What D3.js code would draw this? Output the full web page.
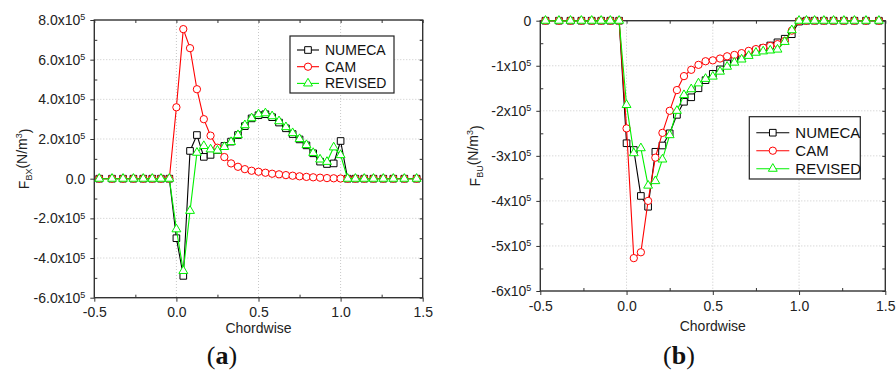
<!DOCTYPE html>
<html>
<head>
<meta charset="utf-8">
<title>Body force chordwise</title>
<script src="https://d3js.org/d3.v7.min.js"></script>
<style>
  body { margin: 0; background: #fff; }
  svg { display: block; font-family: "Liberation Sans", Arial, sans-serif; }
  .grid line { stroke: #c8c8c8; stroke-dasharray: 1,2; }
  .axis text { font-size: 14px; fill: #222; }
  .axis path { display: none; }
  .axis line { stroke: #333; }
</style>
</head>
<body>
<script>
// chordwise positions (shared by both panels)
var chordwise = [-0.47, -0.392, -0.325, -0.262, -0.202, -0.147, -0.094, -0.043,
  0, 0.042, 0.083, 0.125, 0.167, 0.208, 0.25, 0.292, 0.333, 0.375, 0.417, 0.458, 0.5,
  0.542, 0.583, 0.625, 0.667, 0.708, 0.75, 0.792, 0.833, 0.875, 0.917, 0.958, 1.0,
  1.043, 1.09, 1.144, 1.2, 1.26, 1.321, 1.388, 1.463];

// panel (a) F_BX, units of 1e5 N/m^3
var numecaA = [0, 0, 0, 0, 0, 0, 0, 0,
  -3.0, -4.9, 1.4, 2.2, 1.1, 1.2, 1.45, 1.65, 1.87, 2.2, 2.65, 3.04, 3.2,
  3.25, 3.1, 2.83, 2.54, 2.25, 1.98, 1.68, 1.28, 0.86, 0.74, 0.77, 1.9,
  0, 0, 0, 0, 0, 0, 0, 0];
var camA = [0, 0, 0, 0, 0, 0, 0, 0,
  3.6, 7.54, 6.58, 4.51, 3.0, 2.17, 1.56, 1.09, 0.77, 0.6, 0.48, 0.4, 0.35,
  0.3, 0.25, 0.22, 0.18, 0.15, 0.12, 0.09, 0.07, 0.05, 0.03, 0.02, 0.01,
  0, 0, 0, 0, 0, 0, 0, 0];
var revisedA = [0, 0, 0, 0, 0, 0, 0, 0,
  -2.55, -4.65, -1.62, 1.31, 1.65, 1.48, 1.42, 1.6, 1.85, 2.2, 2.7, 3.05, 3.25,
  3.3, 3.15, 2.9, 2.6, 2.3, 2.0, 1.7, 1.3, 0.97, 0.85, 1.58, 1.19,
  0, 0, 0, 0, 0, 0, 0, 0];

// panel (b) F_BU, units of 1e5 N/m^3
var numecaB = [0, 0, 0, 0, 0, 0, 0, 0,
  -2.72, -2.87, -3.89, -4.13, -2.91, -2.77, -2.5, -2.09, -1.8, -1.7, -1.5, -1.32, -1.18,
  -1.08, -0.95, -0.88, -0.8, -0.73, -0.66, -0.61, -0.55, -0.48, -0.4, -0.3, -0.02,
  0, 0, 0, 0, 0, 0, 0, 0];
var camB = [0, 0, 0, 0, 0, 0, 0, 0,
  -2.39, -5.27, -5.14, -4.0, -3.04, -2.49, -2.0, -1.54, -1.23, -1.09, -0.98, -0.9, -0.88,
  -0.84, -0.79, -0.76, -0.72, -0.67, -0.63, -0.6, -0.56, -0.52, -0.45, -0.22, -0.01,
  0, 0, 0, 0, 0, 0, 0, 0];
var revisedB = [0, 0, 0, 0, 0, 0, 0, 0,
  -1.87, -2.94, -2.83, -3.66, -3.56, -3.08, -2.54, -2.0, -1.65, -1.52, -1.39, -1.29, -1.24,
  -1.13, -1.02, -0.93, -0.86, -0.78, -0.71, -0.68, -0.66, -0.64, -0.47, -0.21, 0,
  0, 0, 0, 0, 0, 0, 0, 0];

var seriesNames = ["NUMECA", "CAM", "REVISED"];

var xTicks = [-0.5, 0, 0.5, 1.0, 1.5];
var xLabels = ["-0.5", "0.0", "0.5", "1.0", "1.5"];
var yTicksA = [-6, -4, -2, 0, 2, 4, 6, 8];
var yLabelsA = ["-6.0", "-4.0", "-2.0", "0.0", "2.0", "4.0", "6.0", "8.0"];
var yTicksB = [-6, -5, -4, -3, -2, -1, 0];
var yLabelsB = ["-6", "-5", "-4", "-3", "-2", "-1", "0"];

var width = 896, height = 372;
var colors = ["#000000", "#ff0000", "#00f000"];
var symbols = [d3.symbolSquare, d3.symbolCircle, d3.symbolTriangle];
var symSizes = [44, 42, 34];

var svg = d3.select("body").append("svg")
  .attr("width", width).attr("height", height);
svg.append("rect").attr("width", width).attr("height", height).attr("fill", "#fff");

function drawPanel(p) {
  var x = d3.scaleLinear().domain([-0.5, 1.5]).range([p.left, p.right]);
  var y = d3.scaleLinear().domain(p.yDomain).range([p.bottom, p.top]);
  var g = svg.append("g");

  // grid
  var grid = g.append("g").attr("class", "grid");
  grid.selectAll(".gx").data(xTicks.slice(1, -1)).enter().append("line")
    .attr("x1", d => x(d)).attr("x2", d => x(d))
    .attr("y1", p.top).attr("y2", p.bottom);
  grid.selectAll(".gy").data(p.yTicks.slice(1, -1)).enter().append("line")
    .attr("x1", p.left).attr("x2", p.right)
    .attr("y1", d => y(d)).attr("y2", d => y(d));

  // minor ticks (inward) on all four sides
  var xMinor = d3.range(-0.25, 1.5, 0.5);
  var yMinor = p.yTicks.slice(0, -1).map((d, i) => (d + p.yTicks[i + 1]) / 2);
  var allX = xTicks.concat(xMinor), allY = p.yTicks.concat(yMinor);
  g.append("g").attr("class", "axis").attr("transform", "translate(0," + p.bottom + ")")
    .call(d3.axisBottom(x).tickValues(xMinor).tickSize(-3).tickFormat(""));
  g.append("g").attr("class", "axis").attr("transform", "translate(" + p.left + ",0)")
    .call(d3.axisLeft(y).tickValues(yMinor).tickSize(-3).tickFormat(""));
  g.append("g").attr("class", "axis").attr("transform", "translate(0," + p.top + ")")
    .call(d3.axisTop(x).tickValues(allX).tickSize(-3).tickFormat(""));
  g.append("g").attr("class", "axis").attr("transform", "translate(" + p.right + ",0)")
    .call(d3.axisRight(y).tickValues(allY).tickSize(-3).tickFormat(""));

  // major ticks + labels
  g.append("g").attr("class", "axis").attr("transform", "translate(0," + p.bottom + ")")
    .call(d3.axisBottom(x).tickValues(xTicks).tickSize(4).tickPadding(p.xPad)
      .tickFormat((d, i) => xLabels[i]));
  var ya = g.append("g").attr("class", "axis").attr("transform", "translate(" + p.left + ",0)")
    .call(d3.axisLeft(y).tickValues(p.yTicks).tickSize(4).tickPadding(5)
      .tickFormat((d, i) => p.yLabels[i]));
  ya.selectAll("text").each(function(d, i) {
    var t = d3.select(this);
    if (d === 0) return;
    t.text(null);
    t.append("tspan").text(p.yLabels[i] + "x10");
    t.append("tspan").attr("dy", "-0.5em").attr("font-size", "9px").text("5");
  });

  // frame
  g.append("rect").attr("x", p.left).attr("y", p.top)
    .attr("width", p.right - p.left).attr("height", p.bottom - p.top)
    .attr("fill", "none").attr("stroke", "#333").attr("stroke-width", 1.4);

  // series
  var line = d3.line().x((d, i) => x(chordwise[i])).y(d => y(d));
  p.series.forEach(function(vals, k) {
    g.append("path").datum(vals).attr("d", line)
      .attr("fill", "none").attr("stroke", colors[k]).attr("stroke-width", 1.1);
    g.selectAll(".m" + k).data(vals).enter().append("path")
      .attr("d", d3.symbol().type(symbols[k]).size(symSizes[k]))
      .attr("transform", (d, i) => "translate(" + x(chordwise[i]) + "," + y(d) + ")")
      .attr("fill", "#fff").attr("stroke", colors[k]).attr("stroke-width", 1);
  });

  // axis titles
  svg.append("text").attr("x", (p.left + p.right) / 2).attr("y", p.bottom + p.xTitleDy)
    .attr("text-anchor", "middle").attr("font-size", "14px").attr("fill", "#222")
    .text("Chordwise");
  var yt = svg.append("text")
    .attr("transform", "translate(" + p.titleX + "," + (p.top + p.bottom) / 2 + ") rotate(-90)")
    .attr("text-anchor", "middle").attr("font-size", "14px").attr("fill", "#222");
  yt.append("tspan").text("F");
  yt.append("tspan").attr("font-size", "9px").attr("dy", "0.35em").text(p.sub);
  yt.append("tspan").attr("dy", "-0.35em").text("(N/m");
  yt.append("tspan").attr("font-size", "9px").attr("dy", "-0.55em").text("3");
  yt.append("tspan").attr("dy", "0.55em").text(")");

  // legend
  var L = p.legend;
  var lg = svg.append("g");
  lg.append("rect").attr("x", L.x).attr("y", L.y).attr("width", L.w).attr("height", L.h)
    .attr("fill", "#fff").attr("stroke", "#222").attr("stroke-width", 1.2);
  seriesNames.forEach(function(name, k) {
    var cy = L.y + L.first + k * L.row;
    lg.append("line").attr("x1", L.x + 7).attr("x2", L.x + 7 + L.len)
      .attr("y1", cy).attr("y2", cy).attr("stroke", colors[k]).attr("stroke-width", 1.1);
    lg.append("path").attr("d", d3.symbol().type(symbols[k]).size(symSizes[k]))
      .attr("transform", "translate(" + (L.x + 7 + L.len / 2) + "," + cy + ")")
      .attr("fill", "#fff").attr("stroke", colors[k]);
    lg.append("text").attr("x", L.x + L.len + 13).attr("y", cy + 5)
      .attr("font-size", L.font + "px").attr("fill", "#111").text(name);
  });

  // caption
  var cap = svg.append("text").attr("x", p.capX).attr("y", 364)
    .attr("text-anchor", "middle").attr("font-family", "'Liberation Serif', serif")
    .attr("font-size", "26px").attr("fill", "#111");
  cap.append("tspan").text("(");
  cap.append("tspan").attr("font-weight", "bold").text(p.cap);
  cap.append("tspan").text(")");
}

drawPanel({
  left: 94.3, right: 422.7, top: 20, bottom: 297.7,
  yDomain: [-6, 8], yTicks: yTicksA, yLabels: yLabelsA, xPad: 5, xTitleDy: 35,
  series: [numecaA, camA, revisedA], sub: "BX", titleX: 28.5,
  legend: { x: 290, y: 36, w: 104, h: 57, first: 14, row: 16.7, len: 22, font: 14 },
  cap: "a", capX: 222
});
drawPanel({
  left: 540.3, right: 885.3, top: 20.7, bottom: 291,
  yDomain: [-6, 0], yTicks: yTicksB, yLabels: yLabelsB, xPad: 6, xTitleDy: 40,
  series: [numecaB, camB, revisedB], sub: "BU", titleX: 479.5,
  legend: { x: 749.3, y: 116.7, w: 111, h: 62.3, first: 16, row: 18, len: 33, font: 15 },
  cap: "b", capX: 679
});
</script>
</body>
</html>
